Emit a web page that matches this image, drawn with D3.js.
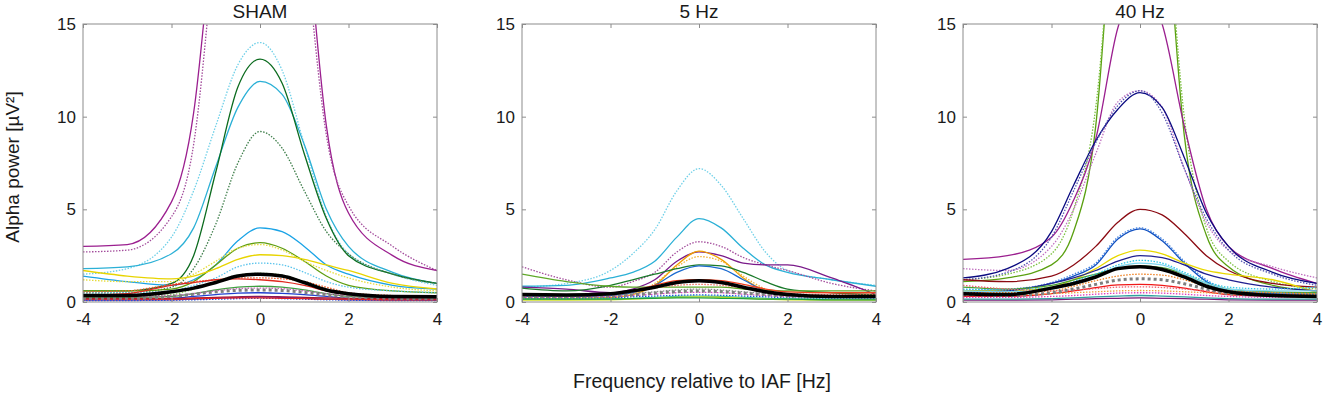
<!DOCTYPE html>
<html>
<head>
<meta charset="utf-8">
<script src="https://cdn.jsdelivr.net/npm/d3@7"></script>
<style>
  body { margin: 0; background: #fff; }
  svg { display: block; font-family: Arial, "Liberation Sans", sans-serif; }
</style>
</head>
<body>
<div id="chart"></div>
<script>
// Frequency grid (Hz relative to IAF) shared by every curve
const freq = [-4, -3, -2, -1.5, -1, -0.5, 0, 0.5, 1, 1.5, 2, 3, 4];

const panelTitles = ['SHAM', '5 Hz', '40 Hz'];
const xTicks = [-4, -2, 0, 2, 4];
const yTicks = [0, 5, 10, 15];

// SHAM: one row per subject curve
const shamValues = [
  [3.0, 3.1, 5.4, 10.2, 22, 35, 40, 36, 22, 9.5, 4.8, 2.5, 1.7],
  [2.7, 2.8, 4.6, 8.5, 20, 33, 38, 33, 20, 9.0, 5.2, 3.0, 1.7],
  [1.5, 1.8, 3.5, 6.0, 9.5, 12.8, 14.0, 12.5, 8.5, 4.6, 2.6, 1.5, 0.9],
  [1.8, 1.9, 2.6, 4.0, 7.3, 10.5, 11.9, 11.2, 8.5, 5.0, 3.0, 1.6, 1.0],
  [0.6, 0.6, 1.0, 2.5, 7.0, 11.6, 13.1, 11.8, 8.0, 4.5, 2.5, 1.5, 1.0],
  [0.5, 0.5, 0.8, 1.8, 4.2, 7.5, 9.2, 8.3, 6.0, 3.8, 2.6, 1.5, 1.0],
  [1.4, 1.1, 0.9, 1.2, 2.0, 3.3, 4.0, 3.8, 3.0, 2.0, 1.5, 0.9, 0.7],
  [0.6, 0.6, 0.7, 1.1, 2.0, 2.9, 3.2, 2.9, 2.2, 1.4, 0.9, 0.6, 0.5],
  [1.7, 1.4, 1.25, 1.4, 1.8, 2.3, 2.55, 2.5, 2.3, 2.0, 1.7, 1.0, 0.7],
  [1.2, 1.1, 1.1, 1.5, 2.2, 2.9, 3.1, 2.8, 2.2, 1.7, 1.3, 0.8, 0.6],
  [0.5, 0.5, 0.6, 0.9, 1.3, 1.9, 2.1, 2.0, 1.6, 1.1, 0.8, 0.6, 0.5],
  [0.55, 0.6, 0.95, 1.1, 1.2, 1.3, 1.3, 1.25, 1.1, 0.8, 0.5, 0.35, 0.3],
  [0.35, 0.45, 0.9, 1.05, 1.2, 1.25, 1.2, 1.1, 0.9, 0.6, 0.4, 0.3, 0.25],
  [0.3, 0.3, 0.4, 0.7, 1.1, 1.45, 1.55, 1.45, 1.1, 0.7, 0.45, 0.3, 0.25],
  [0.25, 0.25, 0.3, 0.45, 0.65, 0.8, 0.85, 0.8, 0.65, 0.45, 0.3, 0.25, 0.2],
  [0.3, 0.3, 0.35, 0.45, 0.6, 0.72, 0.75, 0.72, 0.6, 0.45, 0.35, 0.3, 0.25],
  [0.15, 0.15, 0.2, 0.3, 0.4, 0.48, 0.5, 0.47, 0.4, 0.3, 0.2, 0.15, 0.12],
  [0.2, 0.2, 0.2, 0.22, 0.25, 0.28, 0.3, 0.28, 0.25, 0.22, 0.2, 0.18, 0.15],
  [0.1, 0.1, 0.12, 0.15, 0.2, 0.25, 0.28, 0.25, 0.2, 0.15, 0.12, 0.1, 0.1],
  [0.08, 0.08, 0.1, 0.12, 0.15, 0.18, 0.2, 0.18, 0.15, 0.12, 0.1, 0.08, 0.08],
  [0.15, 0.15, 0.15, 0.18, 0.2, 0.22, 0.22, 0.2, 0.18, 0.15, 0.15, 0.12, 0.12],
  [0.2, 0.2, 0.3, 0.42, 0.55, 0.63, 0.65, 0.62, 0.52, 0.38, 0.28, 0.2, 0.18]
];
const shamColors = ['#9b1f8f', '#a34d9c', '#6fd0e8', '#2bb0d6', '#0b6b1e', '#3e7e4a',
  '#1aa3e6', '#5f9e10', '#e8d400', '#e6dc3c', '#5bc4ec', '#f05a28', '#e0281e',
  '#8fd060', '#3fa040', '#d060c0', '#2040d0', '#a01830', '#7a1a7a', '#2050e0',
  '#e02020', '#7f7f7f'];
const shamDotted = [0, 1, 1, 0, 0, 1, 0, 0, 0, 1, 1, 1, 0, 1, 0, 1, 0, 0, 0, 1, 0, 2];
const shamMean = [0.35, 0.35, 0.55, 0.75, 1.05, 1.4, 1.5, 1.4, 1.05, 0.65, 0.45, 0.3, 0.28];

// 5 Hz
const hz5Values = [
  [0.8, 1.0, 1.7, 2.6, 3.9, 6.0, 7.2, 6.3, 4.5, 2.7, 1.7, 1.2, 0.9],
  [0.85, 0.9, 1.3, 1.6, 2.2, 3.5, 4.5, 4.0, 2.9, 2.0, 1.6, 1.2, 0.85],
  [1.9, 1.2, 0.8, 1.1, 1.6, 2.7, 3.25, 3.0, 2.4, 2.0, 1.7, 1.0, 0.6],
  [0.8, 0.7, 0.5, 0.7, 1.2, 2.2, 2.7, 2.5, 2.1, 2.0, 2.0, 1.3, 0.4],
  [0.2, 0.2, 0.25, 0.4, 0.9, 2.0, 2.75, 2.3, 1.3, 0.6, 0.4, 0.3, 0.3],
  [0.2, 0.2, 0.25, 0.45, 1.0, 1.9, 2.45, 2.2, 1.4, 0.7, 0.45, 0.3, 0.3],
  [0.75, 0.6, 0.9, 1.2, 1.5, 1.8, 2.0, 1.95, 1.6, 1.1, 0.7, 0.5, 0.4],
  [0.3, 0.3, 0.35, 0.5, 0.9, 1.6, 1.95, 1.8, 1.2, 0.6, 0.35, 0.3, 0.25],
  [1.5, 1.1, 0.85, 0.8, 0.8, 0.8, 0.8, 0.8, 0.7, 0.65, 0.6, 0.6, 0.6],
  [0.45, 0.4, 0.45, 0.6, 0.9, 1.15, 1.2, 1.15, 0.95, 0.7, 0.55, 0.5, 0.5],
  [0.35, 0.35, 0.4, 0.55, 0.75, 0.9, 0.95, 0.9, 0.75, 0.55, 0.45, 0.4, 0.4],
  [0.3, 0.3, 0.35, 0.45, 0.55, 0.65, 0.7, 0.65, 0.55, 0.45, 0.35, 0.3, 0.3],
  [0.25, 0.25, 0.3, 0.35, 0.42, 0.5, 0.52, 0.5, 0.42, 0.35, 0.3, 0.25, 0.25],
  [0.2, 0.2, 0.22, 0.28, 0.32, 0.36, 0.38, 0.36, 0.32, 0.28, 0.22, 0.2, 0.2],
  [0.15, 0.15, 0.18, 0.2, 0.25, 0.3, 0.32, 0.3, 0.25, 0.2, 0.18, 0.15, 0.15],
  [0.1, 0.1, 0.12, 0.15, 0.2, 0.25, 0.28, 0.25, 0.2, 0.15, 0.12, 0.1, 0.1],
  [0.15, 0.15, 0.15, 0.18, 0.2, 0.22, 0.22, 0.2, 0.18, 0.15, 0.15, 0.12, 0.12],
  [0.3, 0.3, 0.32, 0.38, 0.48, 0.56, 0.6, 0.56, 0.48, 0.4, 0.32, 0.3, 0.28]
];
const hz5Colors = ['#6fd0e8', '#2bb0d6', '#a34d9c', '#7a1a8a', '#f0a000', '#f0b030',
  '#1a7a2a', '#1a6ad0', '#5fa828', '#f04020', '#f07060', '#8a8a8a', '#e040c0',
  '#2050e0', '#40c0a0', '#d0e020', '#20a040', '#7f7f7f'];
const hz5Dotted = [1, 0, 1, 0, 0, 1, 0, 0, 0, 0, 1, 1, 1, 1, 0, 0, 0, 2];
const hz5Mean = [0.4, 0.38, 0.45, 0.6, 0.8, 1.05, 1.15, 1.05, 0.8, 0.55, 0.4, 0.3, 0.3];

// 40 Hz
const hz40Values = [
  [1.1, 1.3, 2.0, 3.8, 9.5, 25, 35, 24, 9.0, 3.6, 1.9, 0.9, 0.6],
  [1.2, 1.5, 2.6, 5.0, 10.5, 24, 32, 24, 10, 4.0, 2.2, 1.1, 0.7],
  [2.3, 2.5, 3.5, 5.5, 8.8, 14.8, 17, 15, 9.5, 5.0, 3.0, 1.8, 1.0],
  [1.8, 1.7, 3.0, 5.0, 8.0, 10.8, 11.4, 10.5, 7.2, 4.3, 2.8, 1.9, 1.3],
  [1.3, 1.8, 3.8, 6.3, 8.7, 10.4, 11.3, 10.5, 7.8, 4.8, 3.0, 1.6, 1.0],
  [1.2, 1.6, 3.5, 6.0, 8.6, 10.6, 11.4, 10.2, 7.2, 4.5, 2.8, 1.5, 0.9],
  [1.2, 1.1, 1.4, 2.0, 3.0, 4.3, 5.0, 4.7, 3.7, 2.5, 1.7, 1.0, 0.8],
  [0.6, 0.65, 1.0, 1.4, 2.0, 3.4, 3.95, 3.3, 2.1, 1.1, 0.6, 0.45, 0.4],
  [0.65, 0.7, 1.05, 1.5, 2.1, 3.5, 4.0, 3.4, 2.2, 1.2, 0.65, 0.5, 0.45],
  [0.6, 0.6, 0.8, 1.2, 1.8, 2.5, 2.8, 2.6, 2.1, 1.7, 1.5, 1.2, 0.5],
  [0.5, 0.6, 1.0, 1.3, 1.7, 2.2, 2.5, 2.4, 2.0, 1.5, 1.2, 0.8, 0.6],
  [0.8, 0.7, 0.9, 1.2, 1.5, 1.8, 1.95, 1.85, 1.5, 1.0, 0.7, 0.55, 0.5],
  [0.7, 0.65, 0.8, 1.1, 1.5, 2.0, 2.25, 2.1, 1.6, 1.1, 0.8, 0.7, 0.8],
  [0.6, 0.55, 0.7, 1.0, 1.4, 1.9, 2.1, 2.0, 1.5, 1.0, 0.7, 0.6, 0.6],
  [0.5, 0.5, 0.6, 0.85, 1.15, 1.4, 1.5, 1.45, 1.2, 0.85, 0.6, 0.5, 0.45],
  [0.3, 0.3, 0.45, 0.6, 0.78, 0.92, 0.95, 0.9, 0.75, 0.55, 0.4, 0.3, 0.25],
  [0.9, 0.7, 0.6, 0.65, 0.72, 0.8, 0.82, 0.78, 0.7, 0.6, 0.5, 0.4, 0.35],
  [0.4, 0.4, 0.45, 0.5, 0.55, 0.6, 0.62, 0.6, 0.55, 0.5, 0.45, 0.4, 0.4],
  [0.25, 0.25, 0.3, 0.35, 0.42, 0.48, 0.5, 0.48, 0.42, 0.35, 0.3, 0.25, 0.25],
  [0.1, 0.1, 0.12, 0.15, 0.18, 0.2, 0.22, 0.2, 0.18, 0.15, 0.12, 0.1, 0.1],
  [0.15, 0.15, 0.18, 0.22, 0.28, 0.32, 0.35, 0.32, 0.28, 0.22, 0.18, 0.15, 0.15],
  [0.4, 0.35, 0.5, 0.7, 0.95, 1.18, 1.25, 1.2, 0.98, 0.7, 0.45, 0.35, 0.3]
];
const hz40Colors = ['#5aa010', '#7cc040', '#9b1f8f', '#c070c0', '#0a0a80', '#5050b0',
  '#8b0a12', '#1050c0', '#4080e0', '#e8d800', '#202090', '#4aa030', '#30c8e8',
  '#7fd8f0', '#f08020', '#f01818', '#f06070', '#f0a040', '#e040c0', '#7a1a7a',
  '#30a0a0', '#7f7f7f'];
const hz40Dotted = [0, 1, 0, 1, 0, 1, 0, 0, 1, 0, 0, 0, 1, 0, 1, 0, 1, 1, 1, 0, 0, 2];
const hz40Mean = [0.45, 0.4, 0.75, 1.0, 1.35, 1.8, 1.9, 1.75, 1.35, 0.85, 0.55, 0.35, 0.3];

const panelValues = [shamValues, hz5Values, hz40Values];
const panelColors = [shamColors, hz5Colors, hz40Colors];
const panelDotted = [shamDotted, hz5Dotted, hz40Dotted];
const panelMeans = [shamMean, hz5Mean, hz40Mean];

const width = 1325, height = 396;
const plotW = 354, plotTop = 24, plotBottom = 302;
const plotLefts = [83, 522, 963];

const svg = d3.select('#chart').append('svg')
  .attr('width', width)
  .attr('height', height);

const y = d3.scaleLinear().domain([0, 15]).range([plotBottom, plotTop]);

plotLefts.forEach(function (left, p) {
  const x = d3.scaleLinear().domain([-4, 4]).range([left, left + plotW]);
  const line = d3.line()
    .x((d, i) => x(freq[i]))
    .y(d => y(d))
    .curve(d3.curveMonotoneX);

  svg.append('clipPath').attr('id', 'clip' + p)
    .append('rect')
    .attr('x', left).attr('y', plotTop)
    .attr('width', plotW).attr('height', plotBottom - plotTop);

  const g = svg.append('g').attr('clip-path', 'url(#clip' + p + ')');

  // subject curves: solid, dotted (':') or thick grey square-dotted
  g.selectAll('path.subject')
    .data(panelValues[p])
    .join('path')
    .attr('class', 'subject')
    .attr('fill', 'none')
    .attr('d', line)
    .attr('stroke', (d, i) => panelColors[p][i])
    .attr('stroke-width', (d, i) => panelDotted[p][i] === 2 ? 3 : 1.3)
    .attr('stroke-dasharray', function (d, i) {
      const s = panelDotted[p][i];
      return s === 1 ? '1.5,1.5' : s === 2 ? '3,3' : null;
    });

  // grand mean on top
  g.append('path')
    .attr('fill', 'none')
    .attr('stroke', '#000')
    .attr('stroke-width', 3.5)
    .attr('d', line(panelMeans[p]));

  // box with inward ticks on all sides
  const axisColor = '#8c8c8c';
  svg.append('rect')
    .attr('x', left).attr('y', plotTop)
    .attr('width', plotW).attr('height', plotBottom - plotTop)
    .attr('fill', 'none').attr('stroke', axisColor).attr('stroke-width', 1);

  const fmt = d => String(d);
  const xAxis = svg.append('g')
    .attr('transform', 'translate(0,' + plotBottom + ')')
    .call(d3.axisBottom(x).tickValues(xTicks).tickFormat(fmt).tickSizeInner(-4).tickSizeOuter(0).tickPadding(11));
  const xTop = svg.append('g')
    .attr('transform', 'translate(0,' + plotTop + ')')
    .call(d3.axisTop(x).tickValues(xTicks).tickSizeInner(-4).tickSizeOuter(0).tickFormat(''));
  const yAxis = svg.append('g')
    .attr('transform', 'translate(' + left + ',0)')
    .call(d3.axisLeft(y).tickValues(yTicks).tickFormat(fmt).tickSizeInner(-4).tickSizeOuter(0).tickPadding(7));
  const yRight = svg.append('g')
    .attr('transform', 'translate(' + (left + plotW) + ',0)')
    .call(d3.axisRight(y).tickValues(yTicks).tickSizeInner(-4).tickSizeOuter(0).tickFormat(''));

  [xAxis, xTop, yAxis, yRight].forEach(function (a) {
    a.select('.domain').remove();
    a.selectAll('line').attr('stroke', axisColor);
    a.selectAll('text')
      .attr('fill', '#1a1a1a')
      .style('font-size', '17px')
      .style('font-family', 'Arial, "Liberation Sans", sans-serif');
  });

  svg.append('text')
    .attr('x', left + plotW / 2)
    .attr('y', 18)
    .attr('text-anchor', 'middle')
    .attr('fill', '#1a1a1a')
    .style('font-size', '19px')
    .text(panelTitles[p]);
});

svg.append('text')
  .attr('transform', 'translate(19,167) rotate(-90)')
  .attr('text-anchor', 'middle')
  .attr('fill', '#1a1a1a')
  .style('font-size', '19px')
  .text('Alpha power [µV²]');

svg.append('text')
  .attr('x', 702)
  .attr('y', 388)
  .attr('text-anchor', 'middle')
  .attr('fill', '#1a1a1a')
  .style('font-size', '19.5px')
  .text('Frequency relative to IAF [Hz]');
</script>
</body>
</html>
